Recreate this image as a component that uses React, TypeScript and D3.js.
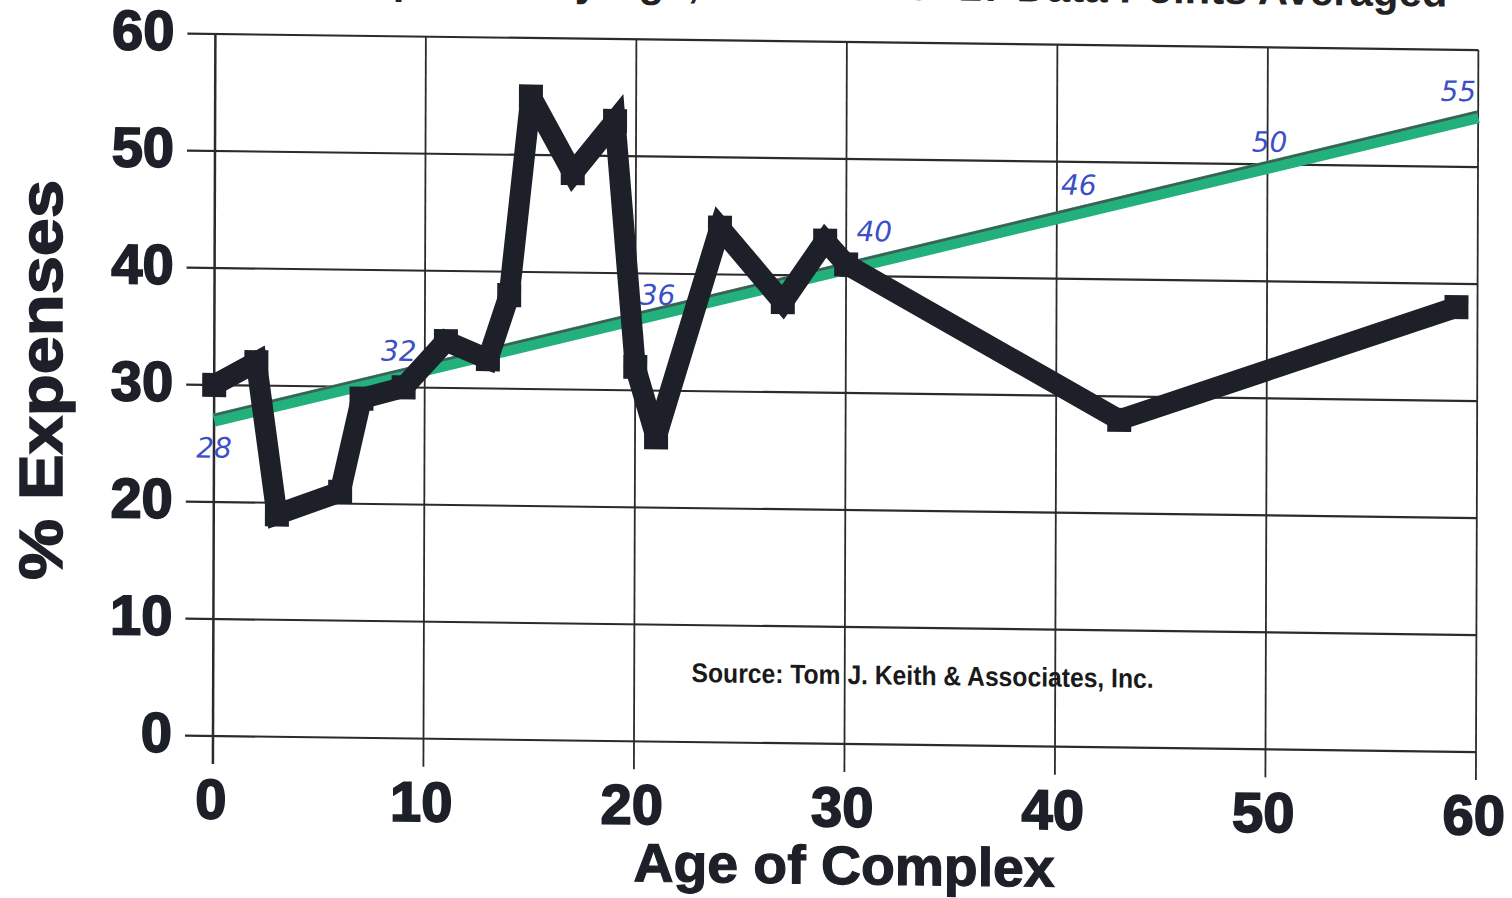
import React from "react";
import * as d3 from "d3";

// black series: averaged % expenses by age of complex
const ages = [0, 2, 3, 6, 7, 9, 11, 13, 14, 15, 17, 19, 20, 21, 24, 27, 29, 30, 43, 59];
const expensePct = [30, 32, 19, 21, 29, 30, 34, 32.5, 38, 55, 48.5, 53, 32, 26, 44, 37.7, 43, 41, 28, 38];

// green trend line (hand drawn) and its pen notes
const trendAges = [0, 60];
const trendPct = [27, 54.3];
const noteAges = [0, 10, 20, 30, 40, 50, 60];
const noteLabels = ["28", "32", "36", "40", "46", "50", "55"];

const xTicks = [0, 10, 20, 30, 40, 50, 60];
const yTicks = [0, 10, 20, 30, 40, 50, 60];

const title = "Total Expenses by Age, Minimum of 17 Data Points Averaged";
const xTitle = "Age of Complex";
const yTitle = "% Expenses";
const source = "Source:  Tom J. Keith & Associates, Inc.";

const W = 1512;
const H = 898;
// scan is slightly skewed
const originX = 213;
const originY = 736;
const skewY = 0.0127;
const skewX = -0.0034;

// where each pen note sits relative to the trend line
const noteOffsets = [
  [0, 28],
  [-26, -18],
  [22, -24],
  [28, -37],
  [22, -33],
  [2, -25],
  [-20, -25],
];

const font = "'Liberation Sans', Arial, Helvetica, sans-serif";
const ink = "#1d2029";

const App: React.FC = () => {
  const x = d3.scaleLinear().domain([0, 60]).range([0, 1263]);
  const y = d3.scaleLinear().domain([0, 60]).range([0, -702]);

  const pts = ages.map((a, i) => [a, expensePct[i]] as [number, number]);
  const trend = trendAges.map((a, i) => [a, trendPct[i]] as [number, number]);

  const line = d3
    .line<[number, number]>()
    .x((d) => x(d[0]))
    .y((d) => y(d[1]));

  const trendAt = d3.scaleLinear().domain(trendAges).range(trendPct);

  return (
    <svg
      width={W}
      height={H}
      style={{ position: "absolute", left: 0, top: 0, background: "#fff" }}
    >
      <g transform={`translate(${originX},${originY}) matrix(1,${skewY},${skewX},1,0,0)`}>
        <text
          x={x(60) - 31}
          y={-745}
          textAnchor="end"
          fontFamily={font}
          fontWeight="bold"
          fontSize={42}
          fill="#222"
        >
          {title}
        </text>

        {yTicks.map((t) => (
          <line
            key={"h" + t}
            x1={-28}
            x2={x(60)}
            y1={y(t)}
            y2={y(t)}
            stroke="#2b2b2b"
            strokeWidth={2.2}
          />
        ))}
        {xTicks.map((t) => (
          <line
            key={"v" + t}
            x1={x(t)}
            x2={x(t)}
            y1={y(60)}
            y2={28}
            stroke="#2b2b2b"
            strokeWidth={t === 0 ? 2.5 : 1.8}
          />
        ))}

        {yTicks.map((t) => (
          <text
            key={"yl" + t}
            x={-41}
            y={y(t) - 3}
            textAnchor="end"
            dominantBaseline="central"
            fontFamily={font}
            fontWeight="bold"
            fontSize={56}
            fill={ink}
            stroke={ink}
            strokeWidth={1.8}
          >
            {t}
          </text>
        ))}
        {xTicks.map((t) => (
          <text
            key={"xl" + t}
            x={x(t) - 2}
            y={63}
            textAnchor="middle"
            dominantBaseline="central"
            fontFamily={font}
            fontWeight="bold"
            fontSize={56}
            fill={ink}
            stroke={ink}
            strokeWidth={1.8}
          >
            {t}
          </text>
        ))}

        <text
          x={x(30)}
          y={140}
          textAnchor="middle"
          fontFamily={font}
          fontWeight="bold"
          fontSize={54}
          textLength={421}
          lengthAdjust="spacingAndGlyphs"
          fill={ink}
          stroke={ink}
          strokeWidth={1.2}
        >
          {xTitle}
        </text>

        <text
          x={x(33.7)}
          y={y(5.9)}
          textAnchor="middle"
          dominantBaseline="central"
          fontFamily={font}
          fontWeight="bold"
          fontSize={27}
          textLength={462}
          lengthAdjust="spacingAndGlyphs"
          fill="#1a1a1a"
        >
          {source}
        </text>

        {/* hand drawn trend line */}
        <path d={line(trend) ?? ""} fill="none" stroke="#22b07d" strokeWidth={13} />
        <path
          d={line(trend) ?? ""}
          fill="none"
          stroke="#4a4f4c"
          strokeWidth={2.5}
          transform="translate(0,-5)"
          opacity={0.85}
        />
        {noteAges.map((a, i) => (
          <text
            key={"n" + i}
            x={x(a) + noteOffsets[i][0]}
            y={y(trendAt(a)) + noteOffsets[i][1]}
            textAnchor="middle"
            dominantBaseline="central"
            fontFamily="'DejaVu Sans', sans-serif"
            fontStyle="italic"
            fontSize={28}
            fill="#3c4fc6"
          >
            {noteLabels[i]}
          </text>
        ))}

        <path
          d={line(pts) ?? ""}
          fill="none"
          stroke={ink}
          strokeWidth={21}
          strokeLinejoin="miter"
          strokeMiterlimit={3}
        />
        {pts.map((d, i) => (
          <rect
            key={"m" + i}
            x={x(d[0]) - 12}
            y={y(d[1]) - 12}
            width={24}
            height={24}
            fill={ink}
          />
        ))}
      </g>

      <text
        transform={`translate(40,380) rotate(-90)`}
        textAnchor="middle"
        dominantBaseline="central"
        fontFamily={font}
        fontWeight="bold"
        fontSize={62}
        textLength={400}
        lengthAdjust="spacingAndGlyphs"
        fill={ink}
        stroke={ink}
        strokeWidth={1.5}
      >
        {yTitle}
      </text>
    </svg>
  );
};

export default App;
